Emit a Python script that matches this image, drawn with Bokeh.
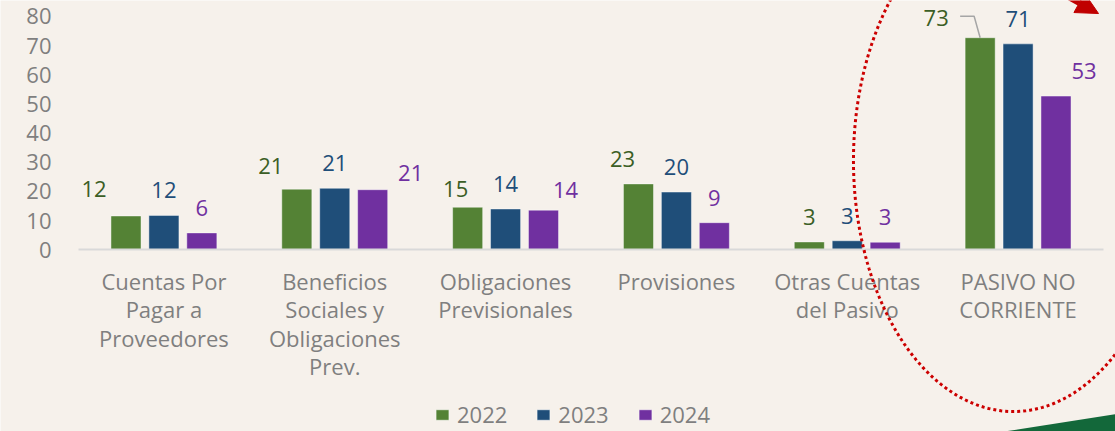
import math
from bokeh.plotting import figure
from bokeh.models import (ColumnDataSource, Range1d, FixedTicker, LabelSet,
                          Legend, LegendItem, PolyAnnotation, Arrow, NormalHead)
from bokeh.core.properties import value
from bokeh.embed import file_html
from bokeh.resources import INLINE

# ---------------- data ----------------
categories = [
    "Cuentas Por\nPagar a\nProveedores",
    "Beneficios\nSociales y\nObligaciones\nPrev.",
    "Obligaciones\nPrevisionales",
    "Provisiones",
    "Otras Cuentas\ndel Pasivo",
    "PASIVO NO\nCORRIENTE",
]
years = ["2022", "2023", "2024"]
v2022 = [11.6, 20.8, 14.6, 22.6, 2.7, 72.7]
v2023 = [11.8, 21.1, 14.0, 19.8, 3.1, 70.6]
v2024 = [5.8, 20.6, 13.6, 9.3, 2.6, 52.7]
y_ticks = [0, 10, 20, 30, 40, 50, 60, 70, 80]

# ---------------- style ----------------
FONT = "Open Sans"
FS = "22px"
BG = "#f6f1eb"
GREY = "#7f7f7f"
bar_colors = ["#548235", "#1f4e79", "#7030a0"]
label_colors = ["#3b5e25", "#1f4e79", "#7030a0"]
dodges = [-0.222, 0.0, 0.222]
BAR_W = 0.176
# manual data-label nudges (screen px), as placed in the original
label_dx = [[-32, -26, -12, -16, 0, -44], [0, 0, 0, 0, 0, 0], [0, 38, 22, 0, 0, 28]]
label_dy = [[27, 23, 18, 25, 25, 20], [25, 25, 25, 25, 25, 25], [25, 17, 20, 25, 25, 25]]

W, H = 1115, 431
PX_PER_CAT = 170.83
PX_PER_UNIT = 2.917
X0_PX, Y0_PX = 78, 249.3   # pixel position of left category edge / value 0

xr = Range1d(-0.5 - X0_PX / PX_PER_CAT, 5.5 + (W - X0_PX - 6 * PX_PER_CAT) / PX_PER_CAT)
yr = Range1d(-(H - Y0_PX) / PX_PER_UNIT, Y0_PX / PX_PER_UNIT)

p = figure(x_range=xr, y_range=yr, width=W, height=H, output_backend="svg",
           toolbar_location=None, min_border=0)
p.background_fill_color = BG
p.border_fill_color = BG
p.outline_line_color = None
p.xgrid.grid_line_color = None
p.ygrid.grid_line_color = None

idx = list(range(len(categories)))
series = [v2022, v2023, v2024]
legend_items = []
for i, (yr_, vals) in enumerate(zip(years, series)):
    src = ColumnDataSource(dict(
        x=[k + dodges[i] for k in idx], val=vals,
        txt=["%d" % int(math.floor(v + 0.5)) for v in vals],
        dx=label_dx[i], dy=label_dy[i]))
    r = p.vbar(x="x", top="val", width=BAR_W, source=src,
               fill_color=bar_colors[i], line_color="white", line_alpha=0.45, line_width=1)
    legend_items.append(LegendItem(label=yr_, renderers=[r]))
    p.add_layout(LabelSet(x="x", y="val", text="txt", x_offset="dx", y_offset="dy",
                          source=src, text_align="center", text_baseline="middle",
                          text_font=value(FONT), text_font_size=FS,
                          text_color=label_colors[i]))

# leader line for the 73 label
bx = 5 + dodges[0]
top = v2022[5]
p.line(x=[bx - 20 / PX_PER_CAT, bx - 6 / PX_PER_CAT, bx],
       y=[top + 21.5 / PX_PER_UNIT, top + 21.5 / PX_PER_UNIT, top],
       line_color="#a6a6a6", line_width=1.5)

# y axis
p.yaxis.fixed_location = -0.5
p.yaxis.ticker = FixedTicker(ticks=y_ticks)
p.yaxis.axis_line_color = None
p.yaxis.major_tick_line_color = None
p.yaxis.minor_tick_line_color = None
p.yaxis.major_tick_out = 0
p.yaxis.major_tick_in = 0
p.yaxis.major_label_standoff = 27
p.yaxis.major_label_text_font = FONT
p.yaxis.major_label_text_font_size = FS
p.yaxis.major_label_text_color = GREY

# x axis (categories)
p.xaxis.fixed_location = 0
p.xaxis.bounds = (-0.5, 5.5)
p.xaxis.ticker = FixedTicker(ticks=idx)
p.xaxis.major_label_overrides = {k: c for k, c in zip(idx, categories)}
p.xaxis.axis_line_color = "#d9d9d9"
p.xaxis.axis_line_width = 2
p.xaxis.major_tick_line_color = None
p.xaxis.minor_tick_line_color = None
p.xaxis.major_tick_out = 0
p.xaxis.major_tick_in = 0
p.xaxis.major_label_standoff = 16
p.xaxis.major_label_text_font = FONT
p.xaxis.major_label_text_font_size = FS
p.xaxis.major_label_text_color = GREY
p.xaxis.major_label_text_line_height = 0.95

# highlight ellipse around last category
cx = 5 - 0.027
a_ = 160 / PX_PER_CAT
cy = 30.6
b_ = 251 / PX_PER_UNIT
ts = [2 * math.pi * k / 240 for k in range(241)]
p.add_layout(PolyAnnotation(xs=[cx + a_ * math.cos(t) for t in ts],
                            ys=[cy + b_ * math.sin(t) for t in ts],
                            fill_color=None, fill_alpha=0, line_color="#cc0000", line_alpha=1,
                            line_width=3, line_dash="3 3"))

# red arrow top-right
p.add_layout(Arrow(end=NormalHead(size=22, fill_color="#c00000", line_color="#c00000"),
                   x_start=5.248, y_start=88.2, x_end=5.471, y_end=81.0,
                   line_color="#c00000", line_width=6))

# green wedge bottom-right
p.add_layout(PolyAnnotation(xs=[4.897, 5.62, 5.62], ys=[-62.5, -55.9, -62.5],
                            fill_color="#13683a", fill_alpha=1, line_color=None))

legend = Legend(items=legend_items, orientation="horizontal", location=(434, 2),
                glyph_width=16, glyph_height=13, label_standoff=7, spacing=28,
                padding=0, margin=0, border_line_color=None, background_fill_alpha=0,
                label_text_font=FONT, label_text_font_size=FS, label_text_color=GREY)
p.add_layout(legend)

open("out.html", "w").write(file_html(p, INLINE))
